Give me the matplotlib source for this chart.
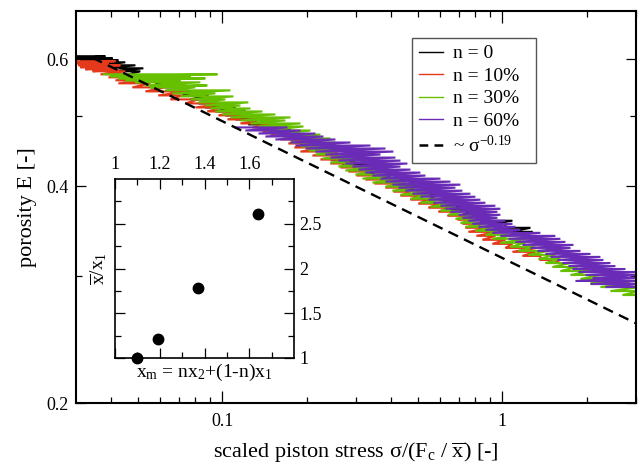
import matplotlib
matplotlib.use("Agg")
import matplotlib.pyplot as plt
from matplotlib.lines import Line2D
from matplotlib.ticker import FixedLocator, NullFormatter

plt.rcParams['font.family'] = ['Liberation Serif', 'DejaVu Serif']
plt.rcParams['mathtext.fontset'] = 'custom'
plt.rcParams['mathtext.rm'] = 'Liberation Serif'
plt.rcParams['mathtext.it'] = 'Liberation Serif'
plt.rcParams['mathtext.bf'] = 'Liberation Serif:bold'
plt.rcParams['mathtext.sf'] = 'Liberation Serif'

# ---------------- data ----------------
# each series: porosity level of each stress cycle, and low / high stress of that cycle
black_y = [0.6058, 0.6019, 0.5981, 0.5942, 0.5885, 0.5829, 0.5773, 0.5699, 0.5626, 0.5555,
           0.5484, 0.5414, 0.5345, 0.5277, 0.5210, 0.5143, 0.5078, 0.5014, 0.4950, 0.4871,
           0.4794, 0.4717, 0.4643, 0.4569, 0.4496, 0.4425, 0.4354, 0.4285, 0.4217, 0.4150,
           0.4084, 0.4019, 0.3955, 0.3892, 0.3830, 0.3769, 0.3709, 0.3650, 0.3581, 0.3546,
           0.3501, 0.3456, 0.3434]
black_lo = [0.0300, 0.0300, 0.0311, 0.0338, 0.0367, 0.0382, 0.0415, 0.0450, 0.0509, 0.0576,
            0.0625, 0.0679, 0.0720, 0.0769, 0.0821, 0.0869, 0.0944, 0.1025, 0.1113, 0.1238,
            0.1390, 0.1546, 0.1750, 0.1900, 0.2097, 0.2276, 0.2431, 0.2684, 0.2986, 0.3324,
            0.3668, 0.4047, 0.4504, 0.5012, 0.5443, 0.6008, 0.6523, 0.7197, 0.8345, 0.9061,
            1.025, 1.068, 1.113]
black_hi = [0.0382, 0.0405, 0.0425, 0.0450, 0.0489, 0.0522, 0.0509, 0.0600, 0.0679, 0.0738,
            0.0769, 0.0834, 0.0891, 0.0944, 0.1025, 0.1113, 0.1208, 0.1312, 0.1345, 0.1546,
            0.1750, 0.1980, 0.2239, 0.2533, 0.2750, 0.2914, 0.3061, 0.3324, 0.3668, 0.4047,
            0.4504, 0.5096, 0.5533, 0.5861, 0.6523, 0.7197, 0.8009, 0.9061, 1.086, 1.025,
            1.259, 1.280, 1.238]

red_y = [0.5962, 0.5923, 0.5885, 0.5848, 0.5810, 0.5773, 0.5718, 0.5662, 0.5608, 0.5555,
         0.5484, 0.5414, 0.5345, 0.5277, 0.5210, 0.5143, 0.5078, 0.5014, 0.4950, 0.4887,
         0.4825, 0.4763, 0.4702, 0.4643, 0.4583, 0.4525, 0.4467, 0.4410, 0.4354, 0.4299,
         0.4244, 0.4190, 0.4137, 0.4084, 0.4032, 0.3980, 0.3929, 0.3879, 0.3830, 0.3781,
         0.3733, 0.3685, 0.3638, 0.3592, 0.3546, 0.3501, 0.3456, 0.3412, 0.3369, 0.3326,
         0.3283, 0.3242, 0.3200, 0.3159, 0.3128]
red_lo = [0.0300, 0.0300, 0.0306, 0.0311, 0.0324, 0.0344, 0.0367, 0.0392, 0.0415, 0.0425,
          0.0477, 0.0531, 0.0590, 0.0652, 0.0738, 0.0801, 0.0883, 0.0968, 0.1042, 0.1160,
          0.1280, 0.1390, 0.1484, 0.1611, 0.1721, 0.1808, 0.1900, 0.2097, 0.2239, 0.2431,
          0.2640, 0.2819, 0.3011, 0.3242, 0.3491, 0.3822, 0.4080, 0.4323, 0.4694, 0.5012,
          0.5443, 0.5909, 0.6364, 0.6910, 0.7197, 0.7377, 0.7561, 0.8075, 0.8484, 0.9211,
          1.025, 1.086, 1.179, 1.367, 1.521]
red_hi = [0.0415, 0.0392, 0.0432, 0.0405, 0.0425, 0.0450, 0.0469, 0.0509, 0.0531, 0.0553,
          0.0625, 0.0750, 0.0720, 0.0821, 0.1025, 0.1000, 0.1141, 0.1259, 0.1390, 0.1509,
          0.1611, 0.1750, 0.1823, 0.1947, 0.2149, 0.2333, 0.2575, 0.2796, 0.2684, 0.2914,
          0.3164, 0.3435, 0.3729, 0.3981, 0.4218, 0.4579, 0.4694, 0.5012, 0.5443, 0.5909,
          0.6416, 0.6853, 0.7377, 0.7878, 0.8484, 0.9061, 0.9598, 0.9441, 1.025, 1.086,
          1.334, 1.312, 1.367, 1.611, 1.611]

green_y = [0.5718, 0.5681, 0.5644, 0.5608, 0.5573, 0.5519, 0.5484, 0.5432, 0.5379, 0.5328,
           0.5277, 0.5227, 0.5176, 0.5127, 0.5078, 0.5030, 0.4982, 0.4934, 0.4887, 0.4840,
           0.4778, 0.4717, 0.4658, 0.4598, 0.4540, 0.4482, 0.4425, 0.4368, 0.4313, 0.4258,
           0.4204, 0.4150, 0.4097, 0.4045, 0.3993, 0.3942, 0.3892, 0.3842, 0.3793, 0.3745,
           0.3697, 0.3650, 0.3603, 0.3557, 0.3512, 0.3467, 0.3423, 0.3380, 0.3337, 0.3294,
           0.3252, 0.3211, 0.3169, 0.3128, 0.3089, 0.3049, 0.3011, 0.2973, 0.2934, 0.2897,
           0.2860, 0.2824]
green_lo = [0.0376, 0.0398, 0.0425, 0.0450, 0.0489, 0.0531, 0.0553, 0.0625, 0.0663, 0.0708,
            0.0769, 0.0821, 0.0869, 0.0906, 0.0944, 0.1000, 0.1068, 0.1160, 0.1259, 0.1345,
            0.1424, 0.1546, 0.1679, 0.1750, 0.1900, 0.2030, 0.2149, 0.2276, 0.2431, 0.2596,
            0.2750, 0.2986, 0.3164, 0.3435, 0.3822, 0.4047, 0.4323, 0.4694, 0.5096, 0.5533,
            0.6008, 0.6416, 0.6797, 0.7079, 0.7377, 0.8009, 0.8695, 0.9211, 0.9837, 1.068,
            1.141, 1.238, 1.345, 1.424, 1.509, 1.611, 1.750, 1.900, 2.063, 2.239,
            2.431, 2.684]
green_hi = [0.0960, 0.0769, 0.0869, 0.0708, 0.0834, 0.0883, 0.0801, 0.1068, 0.0944, 0.1095,
            0.1025, 0.1238, 0.1160, 0.1259, 0.1390, 0.1546, 0.1750, 0.1679, 0.1900, 0.1947,
            0.2063, 0.2239, 0.2431, 0.2533, 0.2750, 0.2640, 0.2986, 0.3112, 0.3061, 0.3435,
            0.3668, 0.4149, 0.4323, 0.4504, 0.5096, 0.5671, 0.5533, 0.6260, 0.6686, 0.6797,
            0.7377, 0.8009, 0.8345, 0.9061, 0.9211, 0.9837, 1.113, 1.228, 1.208, 1.312,
            1.460, 1.546, 1.611, 1.750, 1.853, 2.063, 2.239, 2.533, 2.866, 3.1,
            3.1, 3.1]

purple_y = [0.4825, 0.4778, 0.4732, 0.4687, 0.4643, 0.4598, 0.4554, 0.4511, 0.4467, 0.4425,
            0.4382, 0.4340, 0.4299, 0.4258, 0.4217, 0.4177, 0.4137, 0.4097, 0.4058, 0.4019,
            0.3980, 0.3942, 0.3904, 0.3867, 0.3830, 0.3793, 0.3757, 0.3721, 0.3685, 0.3650,
            0.3615, 0.3581, 0.3546, 0.3512, 0.3478, 0.3445, 0.3412, 0.3380, 0.3347, 0.3315,
            0.3283, 0.3252, 0.3221, 0.3190, 0.3159, 0.3128, 0.3098, 0.3069, 0.3040, 0.3011,
            0.2982, 0.2954, 0.2925, 0.2897]
purple_lo = [0.1113, 0.1208, 0.1345, 0.1424, 0.1546, 0.1750, 0.1823, 0.1980, 0.2149, 0.2333,
             0.2431, 0.2596, 0.2750, 0.2914, 0.3061, 0.3242, 0.3435, 0.3668, 0.3822, 0.4047,
             0.4253, 0.4504, 0.4772, 0.5096, 0.5443, 0.5671, 0.6008, 0.6260, 0.6523, 0.6967,
             0.7197, 0.7561, 0.7814, 0.8209, 0.8695, 0.9211, 0.9837, 1.051, 1.113, 1.179,
             1.259, 1.334, 1.424, 1.484, 1.572, 1.638, 1.721, 1.779, 1.869, 1.980,
             2.097, 1.823, 2.063, 2.333]
purple_hi = [0.1707, 0.1900, 0.2149, 0.2295, 0.2533, 0.2866, 0.3379, 0.3822, 0.4080, 0.3668,
             0.4149, 0.4323, 0.4579, 0.4323, 0.4694, 0.5096, 0.5310, 0.6008, 0.6523, 0.7079,
             0.6797, 0.7197, 0.7686, 0.8009, 0.8345, 0.8695, 0.9441, 0.9837, 0.9598, 0.9837,
             0.9598, 1.025, 1.086, 1.113, 1.160, 1.367, 1.546, 1.611, 1.679, 1.794,
             1.750, 1.900, 2.063, 2.239, 2.295, 2.431, 2.533, 2.750, 3.1, 3.1,
             3.1, 3.1, 3.1, 3.1]

fit_x = [0.0343, 3.0]
fit_y = [0.603, 0.258]

labels = ['n = 0', 'n = 10%', 'n = 30%', 'n = 60%']
fit_label = '~ σ$^{-0.19}$'
colors = ['#000000', '#e4391b', '#66c000', '#6a2cb6']

inset_xm = [1.10, 1.19, 1.37, 1.64]
inset_ratio = [1.0, 1.215, 1.78, 2.61]


def zigzag(ys, lo, hi):
    xs, yy = [], []
    for y, a, b in zip(ys, lo, hi):
        xs += [a, b]
        yy += [y, y]
    return xs, yy


fig = plt.figure(figsize=(6.4, 4.67), dpi=100)
ax = fig.add_axes([76 / 640, 1 - 403 / 467, 560 / 640, 392 / 467])

series = [(black_y, black_lo, black_hi), (red_y, red_lo, red_hi),
          (green_y, green_lo, green_hi), (purple_y, purple_lo, purple_hi)]
for (ys, lo, hi), c in zip(series, colors):
    xs, yy = zigzag(ys, lo, hi)
    ax.plot(xs, yy, color=c, lw=1.5, solid_joinstyle='miter')

ax.plot(fit_x, fit_y, color='black', lw=1.7, dashes=(4.5, 2.8))

ax.set_xscale('log')
ax.set_yscale('log')
ax.set_xlim(0.03, 3.0)
ax.set_ylim(0.2, 0.7)

ax.xaxis.set_major_locator(FixedLocator([0.1, 1]))
ax.set_xticklabels(['0.1', '1'])
ax.xaxis.set_minor_locator(FixedLocator([0.04, 0.05, 0.06, 0.07, 0.08, 0.09,
                                         0.2, 0.3, 0.4, 0.5, 0.6, 0.7, 0.8, 0.9, 2, 3]))
ax.xaxis.set_minor_formatter(NullFormatter())
ax.yaxis.set_major_locator(FixedLocator([0.2, 0.4, 0.6]))
ax.set_yticklabels(['0.2', '0.4', '0.6'])
ax.yaxis.set_minor_locator(FixedLocator([0.3, 0.5]))
ax.yaxis.set_minor_formatter(NullFormatter())

ax.tick_params(which='both', direction='in', top=True, right=True, width=0.9,
               labelsize=13)
ax.tick_params(axis='x', which='major', length=8.5, pad=7)
ax.tick_params(axis='x', which='minor', length=4.2)
ax.tick_params(axis='y', which='major', length=7.5, pad=5)
ax.tick_params(axis='y', which='minor', length=4.0)
for s in ax.spines.values():
    s.set_linewidth(1.5)

ax.set_xlabel('scaled piston stress σ/(F$_c$ / $\\overline{x}$) [-]', fontsize=16, labelpad=8)
ax.set_ylabel('porosity E [-]', fontsize=16, labelpad=7)

handles = [Line2D([], [], color=c, lw=1.0) for c in colors]
handles.append(Line2D([], [], color='black', lw=1.8, dashes=(3.5, 2.5)))
leg = ax.legend(handles, labels + [fit_label], loc='upper left',
                bbox_to_anchor=(0.600, 0.610, 0.221, 0.321), mode='expand',
                borderaxespad=0, fontsize=14, handlelength=1.25, handletextpad=0.5,
                labelspacing=0.25, borderpad=0.35, fancybox=False, framealpha=1)
leg.get_frame().set_edgecolor('#555555')
leg.get_frame().set_linewidth(1.0)

# ---------------- inset ----------------
axi = fig.add_axes([115 / 640, 1 - 358 / 467, 179 / 640, 179 / 467])
axi.plot(inset_xm, inset_ratio, 'o', color='black', ms=7.5, clip_on=False, zorder=5)
axi.set_xlim(1.0, 1.8)
axi.set_ylim(1.0, 3.0)
axi.xaxis.set_major_locator(FixedLocator([1.0, 1.2, 1.4, 1.6]))
axi.set_xticklabels(['1', '1.2', '1.4', '1.6'])
axi.xaxis.set_minor_locator(FixedLocator([1.1, 1.3, 1.5, 1.7]))
axi.yaxis.set_major_locator(FixedLocator([1.0, 1.5, 2.0, 2.5]))
axi.set_yticklabels(['1', '1.5', '2', '2.5'])
axi.yaxis.set_minor_locator(FixedLocator([1.25, 1.75, 2.25, 2.75]))
axi.tick_params(which='both', direction='in', top=True, bottom=True, left=True, right=True,
                labeltop=True, labelbottom=False, labelleft=False, labelright=True,
                width=0.9, labelsize=13)
axi.tick_params(which='major', length=7.5, pad=4)
axi.tick_params(which='minor', length=4.0)
for s in axi.spines.values():
    s.set_linewidth(1.2)
axi.set_xlabel('x$_\\mathrm{m}$ = nx$_2$+(1-n)x$_1$', fontsize=14, labelpad=3)
axi.set_ylabel('$\\overline{x}/x_1$', fontsize=14, labelpad=4)

fig.savefig('out.png', dpi=100)
